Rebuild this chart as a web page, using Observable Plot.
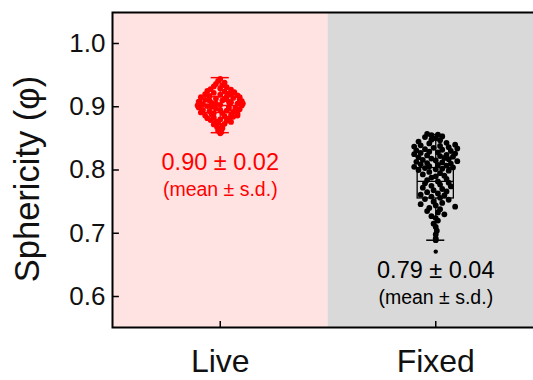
<!DOCTYPE html>
<html>
<head>
<meta charset="utf-8">
<script src="https://cdn.jsdelivr.net/npm/d3@7"></script>
<script src="https://cdn.jsdelivr.net/npm/@observablehq/plot@0.6"></script>
<style>
  html, body { margin: 0; padding: 0; background: #fff; overflow: hidden; }
  #chart svg { font-family: "Liberation Sans", Arial, sans-serif; }
</style>
</head>
<body>
<div id="chart"></div>
<script>
// ---------- data ----------
const categories = ["Live", "Fixed"];
const means = [0.90, 0.79];
const sds = [0.02, 0.04];
const yTicks = [0.6, 0.7, 0.8, 0.9, 1.0];
const yDomain = [0.551, 1.049];

// box statistics per group
const boxQ1 = [0.890, 0.755];
const boxQ3 = [0.915, 0.803];
const boxMedian = [0.902, 0.782];
const whiskerLow = [0.859, 0.689];
const whiskerHigh = [0.946, 0.856];

// individual measurements and their horizontal jitter (fraction of group width)
const liveValues = [
  0.944, 0.941, 0.938, 0.936, 0.934, 0.932, 0.931, 0.929, 0.928, 0.927,
  0.925, 0.924, 0.923, 0.922, 0.921, 0.920, 0.919, 0.918, 0.917, 0.916,
  0.915, 0.914, 0.913, 0.912, 0.911, 0.910, 0.909, 0.908, 0.907, 0.906,
  0.905, 0.904, 0.903, 0.902, 0.901, 0.900, 0.899, 0.898, 0.897, 0.896,
  0.895, 0.894, 0.893, 0.892, 0.891, 0.890, 0.889, 0.888, 0.887, 0.886,
  0.885, 0.884, 0.883, 0.882, 0.881, 0.880, 0.879, 0.878, 0.877, 0.876,
  0.875, 0.873, 0.872, 0.870, 0.868, 0.866, 0.864, 0.862, 0.860, 0.858,
  0.912, 0.908, 0.905, 0.900, 0.897, 0.893, 0.905, 0.902, 0.910, 0.915,
  0.920, 0.895, 0.890, 0.886
];
const liveJitter = [
  0.00, -0.01, 0.02, -0.02, 0.01, -0.03, 0.03, 0.00, -0.045, 0.05,
  -0.06, 0.02, 0.065, -0.03, 0.04, -0.07, 0.00, 0.08, -0.05, 0.03,
  -0.09, 0.06, -0.02, 0.09, -0.07, 0.01, 0.10, -0.10, 0.05, -0.04,
  0.08, -0.08, 0.00, 0.10, -0.06, 0.04, -0.10, 0.07, -0.02, 0.09,
  -0.08, 0.03, -0.05, 0.06, -0.09, 0.01, 0.08, -0.04, 0.05, -0.07,
  0.02, 0.06, -0.03, -0.06, 0.04, 0.00, -0.045, 0.03, -0.02, 0.05,
  -0.01, 0.02, -0.03, 0.01, -0.015, 0.01, 0.00, -0.01, 0.005, 0.00,
  0.02, 0.04, -0.02, -0.04, 0.04, 0.08, 0.105, -0.105, -0.05, 0.09,
  0.05, 0.00, -0.03, 0.08
];
const fixedValues = [
  0.857, 0.856, 0.855, 0.853, 0.852, 0.850, 0.848, 0.847,
  0.845, 0.843, 0.842, 0.840, 0.839, 0.838, 0.837, 0.836, 0.835, 0.834,
  0.833, 0.832, 0.831, 0.830, 0.829, 0.828, 0.827, 0.826, 0.825, 0.824,
  0.823, 0.822, 0.821, 0.820, 0.819, 0.818, 0.817, 0.816, 0.815, 0.814,
  0.813, 0.812, 0.811, 0.810, 0.809, 0.808, 0.807, 0.806, 0.805, 0.804,
  0.803, 0.802, 0.801, 0.800, 0.799,
  0.797, 0.795, 0.793, 0.791, 0.790, 0.788, 0.786, 0.784, 0.782, 0.780,
  0.779, 0.777, 0.775, 0.774, 0.772, 0.770, 0.768, 0.766, 0.765, 0.763,
  0.761, 0.760, 0.758, 0.756, 0.754, 0.753, 0.750, 0.748, 0.746, 0.744,
  0.742, 0.740, 0.738, 0.735, 0.733, 0.730, 0.727, 0.724, 0.720, 0.715,
  0.710, 0.704, 0.698, 0.692, 0.689
];
const fixedJitter = [
  -0.04, 0.01, -0.02, 0.03, -0.05, 0.00, -0.02, 0.02,
  -0.08, 0.05, -0.03, 0.09, -0.07, 0.02, -0.10, 0.06, -0.01, 0.10,
  -0.05, 0.03, -0.09, 0.07, -0.03, 0.01, -0.07, 0.09, -0.10, 0.05,
  -0.04, 0.02, 0.08, -0.08, 0.04, -0.02, 0.06, -0.06, 0.00, 0.10,
  -0.09, 0.03, -0.04, 0.07, -0.07, 0.01, 0.05, -0.03, -0.10, 0.08,
  -0.05, 0.03, 0.00, -0.08, 0.06,
  -0.03, 0.02, -0.06, 0.04, 0.00, -0.02, 0.05, -0.04, 0.01, 0.06,
  -0.05, 0.02, -0.02, 0.07, -0.06, 0.03, -0.01, 0.05, -0.04, 0.01,
  -0.07, 0.04, -0.02, 0.02, -0.05, 0.06, -0.01, 0.03, -0.07, 0.00,
  0.09, -0.03, 0.02, -0.04, 0.01, 0.04, -0.02, 0.00, 0.01, -0.01,
  0.00, 0.005, 0.00, 0.00, 0.00
];
const fixedOutliers = [0.671];

// ---------- build tables ----------
const points = [
  ...liveValues.map((v, i) => ({g: 0, x: 0 + liveJitter[i], y: v})),
  ...fixedValues.map((v, i) => ({g: 1, x: 1 + fixedJitter[i], y: v}))
];
const groups = categories.map((c, i) => ({
  i, name: c, q1: boxQ1[i], q3: boxQ3[i], med: boxMedian[i],
  lo: whiskerLow[i], hi: whiskerHigh[i],
  label: `${means[i].toFixed(2)} ± ${sds[i].toFixed(2)}`
}));
const groupColors = ["#ff0000", "#000000"];
const bgColors = ["#ffe3e3", "#d9d9d9"];
const BOX = 0.084, CAP = 0.042;

const chart = Plot.plot({
  width: 533,
  height: 380,
  marginLeft: 112,
  marginRight: -10,
  marginTop: 12,
  marginBottom: 53,
  x: {type: "linear", domain: [-0.5, 1.5]},
  y: {domain: yDomain},
  marks: [
    Plot.rect(groups, {x1: d => d.i - 0.5, x2: d => d.i + 0.5, y1: yDomain[0], y2: yDomain[1], fill: d => bgColors[d.i]}),
    // boxes
    Plot.rect(groups, {x1: d => d.i - BOX, x2: d => d.i + BOX, y1: "q1", y2: "q3", fill: "none", stroke: d => groupColors[d.i], strokeWidth: 1.3}),
    Plot.ruleY(groups, {y: "med", x1: d => d.i - BOX, x2: d => d.i + BOX, stroke: d => groupColors[d.i], strokeWidth: 1.3}),
    Plot.ruleX(groups, {x: "i", y1: "lo", y2: "q1", stroke: d => groupColors[d.i], strokeWidth: 1.3}),
    Plot.ruleX(groups, {x: "i", y1: "q3", y2: "hi", stroke: d => groupColors[d.i], strokeWidth: 1.3}),
    Plot.ruleY(groups, {y: "lo", x1: d => d.i - CAP, x2: d => d.i + CAP, stroke: d => groupColors[d.i], strokeWidth: 1.5}),
    Plot.ruleY(groups, {y: "hi", x1: d => d.i - CAP, x2: d => d.i + CAP, stroke: d => groupColors[d.i], strokeWidth: 1.5}),
    // points
    Plot.dot(points, {x: "x", y: "y", r: 2.9, fill: d => groupColors[d.g], stroke: "none"}),
    Plot.dot(fixedOutliers, {x: 1, y: d => d, r: 2.2, fill: groupColors[1]}),
    // annotations
    Plot.text(groups, {x: "i", y: d => d.i === 0 ? 0.8125 : 0.641, text: "label", fill: d => groupColors[d.i], fontSize: 23.5, textAnchor: "middle", lineAnchor: "middle"}),
    Plot.text(groups, {x: "i", y: d => d.i === 0 ? 0.7692 : 0.5985, text: () => "(mean ± s.d.)", fill: d => groupColors[d.i], fontSize: 19.5, textAnchor: "middle", lineAnchor: "middle"}),
    // inward ticks
    Plot.ruleY(yTicks, {y: d => d, x1: -0.5, x2: -0.5 + 0.032, stroke: "#000", strokeWidth: 1.5}),
    Plot.ruleX([0, 1], {x: d => d, y1: yDomain[0], y2: yDomain[0] + 0.0095, stroke: "#000", strokeWidth: 1.5}),
    Plot.frame({stroke: "#000", strokeWidth: 2}),
    // axes
    Plot.axisY({ticks: yTicks, tickFormat: d3.format(".1f"), tickSize: 0, tickPadding: 7, fontSize: 26, label: null, fill: "#111"}),
    Plot.axisX({ticks: [0, 1], tickFormat: i => categories[i], tickSize: 0, tickPadding: 22, fontSize: 32, label: null, fill: "#111"}),
    Plot.text(["Sphericity (φ)"], {frameAnchor: "left", dx: -74, dy: 9, rotate: -90, fontSize: 34.5, textAnchor: "middle", lineAnchor: "bottom", fill: "#111"})
  ]
});
document.getElementById("chart").appendChild(chart);
</script>
</body>
</html>
